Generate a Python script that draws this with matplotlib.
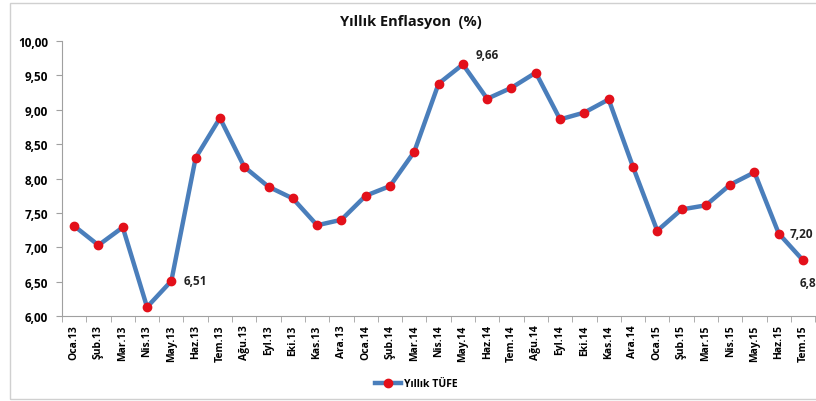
import matplotlib.pyplot as plt
from matplotlib.patches import Rectangle
from matplotlib.ticker import FuncFormatter, FixedLocator, NullFormatter

months = ['Oca.13', 'Şub.13', 'Mar.13', 'Nis.13', 'May.13', 'Haz.13', 'Tem.13', 'Ağu.13',
          'Eyl.13', 'Eki.13', 'Kas.13', 'Ara.13', 'Oca.14', 'Şub.14', 'Mar.14', 'Nis.14',
          'May.14', 'Haz.14', 'Tem.14', 'Ağu.14', 'Eyl.14', 'Eki.14', 'Kas.14', 'Ara.14',
          'Oca.15', 'Şub.15', 'Mar.15', 'Nis.15', 'May.15', 'Haz.15', 'Tem.15']
tufe = [7.31, 7.03, 7.29, 6.13, 6.51, 8.30, 8.88, 8.17, 7.88, 7.71, 7.32, 7.40,
        7.75, 7.89, 8.39, 9.38, 9.66, 9.16, 9.32, 9.54, 8.86, 8.96, 9.15, 8.17,
        7.24, 7.55, 7.61, 7.91, 8.09, 7.20, 6.81]
labelled = {4: (9, 0), 16: (9, 7), 29: (8, 0), 30: (6, -16)}

plt.rcParams['font.family'] = ['Open Sans', 'DejaVu Sans']
fig = plt.figure(figsize=(8.16, 4.02), dpi=100)
fig.patches.append(Rectangle((10 / 816, 0.005), 1.0, 0.985, transform=fig.transFigure,
                             fill=False, edgecolor='#d0d0d0', linewidth=1))
ax = fig.add_axes([0.076, 0.2114, 0.923, 0.6841])

x = list(range(len(months)))
ax.plot(x, tufe, color='#4a7ebb', linewidth=3.2, marker='o', markersize=6,
        markerfacecolor='#e3101a', markeredgecolor='#e3101a', label='Yıllık TÜFE', zorder=3)

for i, (dx, dy) in labelled.items():
    ax.annotate(f'{tufe[i]:.2f}'.replace('.', ','), (i, tufe[i]), xytext=(dx, dy),
                textcoords='offset points', ha='left' if dx > 6 else 'center', va='center',
                fontsize=8.5, fontweight='bold', color='#222222', annotation_clip=False)

ax.set_xlim(-0.5, len(months) - 0.5)
ax.set_ylim(6.0, 10.0)
ax.set_yticks([6.0, 6.5, 7.0, 7.5, 8.0, 8.5, 9.0, 9.5, 10.0])
ax.yaxis.set_major_formatter(FuncFormatter(lambda v, p: f'{v:.2f}'.replace('.', ',')))
ax.set_xticks(x)
ax.set_xticklabels(months, rotation=90, fontsize=7.5, fontweight='bold')
ax.tick_params(axis='x', length=0, pad=6)
ax.xaxis.set_minor_locator(FixedLocator([i - 0.5 for i in range(len(months) + 1)]))
ax.xaxis.set_minor_formatter(NullFormatter())
ax.tick_params(axis='x', which='minor', length=4, color='#a0a0a0', direction='out')
ax.tick_params(axis='y', length=4, color='#a0a0a0', labelsize=8.5, pad=6)
for lab in ax.get_yticklabels():
    lab.set_fontweight('bold')

for side in ['top', 'right']:
    ax.spines[side].set_visible(False)
for side in ['left', 'bottom']:
    ax.spines[side].set_color('#a0a0a0')

fig.text(0.503, 0.945, 'Yıllık Enflasyon  (%)', ha='center', va='center',
         fontsize=10.5, fontweight='bold', color='#111111')

fig.legend(loc='center', bbox_to_anchor=(0.51, 0.043), frameon=False,
           prop={'size': 7.5, 'weight': 'bold'}, handlelength=2.5, handletextpad=0.3)

fig.savefig('out.png', dpi=100)
